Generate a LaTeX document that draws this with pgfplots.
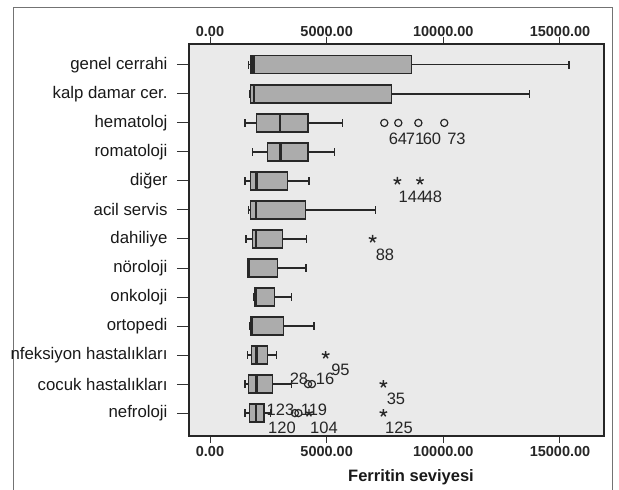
\documentclass[border=0pt]{standalone}
\usepackage{pgfplots}
\pgfplotsset{compat=1.18}
\usepgfplotslibrary{statistics}
\usepackage{fontspec}
\setmainfont{Liberation Sans}
\definecolor{plotbg}{RGB}{234,234,234}
\definecolor{boxfill}{RGB}{172,172,172}
\definecolor{boxline}{RGB}{40,40,40}
\pgfplotsset{
  bx/.style={boxplot prepared={#1}, draw=boxline, fill=boxfill, line width=1.2pt, solid,
    boxplot/box extend=0.62, boxplot/whisker extend=0.25,
    boxplot/every median/.style={line width=2.4pt}},
}
\begin{document}
\begin{tikzpicture}[x=1pt,y=1pt]
\draw[line width=0.9pt, draw=black!55] (13,-5) rectangle (612,483);
% main axis with data
\begin{axis}[
  at={(189pt,54pt)}, anchor=south west,
  scale only axis, width=415pt, height=392pt,
  xmin=-900, xmax=16886, ymin=0.28, ymax=13.79,
  y dir=reverse,
  axis background/.style={fill=plotbg},
  axis line style={line width=1.3pt, draw=black!85},
  ytick={1,...,13},
  yticklabels={genel cerrahi, kalp damar cer., hematoloj, romatoloji, diğer, acil servis, dahiliye, nöroloji, onkoloji, ortopedi, nfeksiyon hastalıkları, cocuk hastalıkları, nefroloji},
  ytick pos=left, tick align=outside, major tick length=12pt,
  ytick style={line width=1pt, black!80},
  yticklabel style={font=\fontsize{16.8}{18}\selectfont, text=black!90, xshift=-6pt},
  xtick=\empty,
  clip=false,
  boxplot/draw direction=x,
]
\addplot[bx={draw position=1, lower whisker=1643, lower quartile=1757, median=1870, upper quartile=8643, upper whisker=15386}] coordinates {};
\addplot[bx={draw position=2, lower whisker=1686, lower quartile=1743, median=1886, upper quartile=7786, upper whisker=13686}] coordinates {};
\addplot[bx={draw position=3, lower whisker=1500, lower quartile=2000, median=3000, upper quartile=4200, upper whisker=5686}] coordinates {};
\addplot[bx={draw position=4, lower whisker=1830, lower quartile=2457, median=3030, upper quartile=4200, upper whisker=5343}] coordinates {};
\addplot[bx={draw position=5, lower whisker=1500, lower quartile=1743, median=2000, upper quartile=3314, upper whisker=4243}] coordinates {};
\addplot[bx={draw position=6, lower whisker=1643, lower quartile=1743, median=1971, upper quartile=4100, upper whisker=7100}] coordinates {};
\addplot[bx={draw position=7, lower whisker=1543, lower quartile=1830, median=1971, upper quartile=3100, upper whisker=4143}] coordinates {};
\addplot[bx={draw position=8, lower whisker=1614, lower quartile=1614, median=1671, upper quartile=2900, upper whisker=4114}] coordinates {};
\addplot[bx={draw position=9, lower whisker=1886, lower quartile=1929, median=1971, upper quartile=2771, upper whisker=3500}] coordinates {};
\addplot[bx={draw position=10, lower whisker=1686, lower quartile=1743, median=1771, upper quartile=3157, upper whisker=4457}] coordinates {};
\addplot[bx={draw position=11, lower whisker=1600, lower quartile=1786, median=2000, upper quartile=2457, upper whisker=2857}] coordinates {};
\addplot[bx={draw position=12, lower whisker=1500, lower quartile=1643, median=2000, upper quartile=2686, upper whisker=3500}] coordinates {};
\addplot[bx={draw position=13, lower whisker=1500, lower quartile=1686, median=1971, upper quartile=2314, upper whisker=2600}] coordinates {};
% outliers
\addplot[only marks, mark=o, mark size=3.6pt, draw=boxline, line width=1.2pt] coordinates {(7470,3) (8070,3) (8930,3) (10040,3) (4200,12) (4370,12) (3640,13) (3790,13)};
\addplot[only marks, mark=star, mark size=4pt, draw=boxline, line width=1.4pt] coordinates {(8030,5) (9000,5) (6970,7) (4957,11) (7430,12) (4243,13) (7430,13)};
% outlier labels
\begin{scope}[every node/.style={font=\fontsize{16.5}{18}\selectfont, inner sep=0pt, text=black!85}]
\node at (axis cs:8057,3.56) {64};
\node at (axis cs:8786,3.56) {71};
\node at (axis cs:9514,3.56) {60};
\node at (axis cs:10564,3.56) {73};
\node at (axis cs:8679,5.55) {144};
\node at (axis cs:9557,5.55) {48};
\node at (axis cs:7500,7.53) {88};
\node at (axis cs:5593,11.52) {95};
\node at (axis cs:3814,11.81) {28};
\node at (axis cs:4929,11.81) {16};
\node at (axis cs:7971,12.50) {35};
\node at (axis cs:3021,12.88) {123};
\node at (axis cs:4457,12.88) {119};
\node at (axis cs:3086,13.51) {120};
\node at (axis cs:4886,13.51) {104};
\node at (axis cs:8100,13.51) {125};
\end{scope}
\end{axis}
% bottom x ticks
\begin{axis}[
  at={(189pt,54pt)}, anchor=south west,
  scale only axis, width=415pt, height=392pt,
  xmin=-900, xmax=16886, ymin=0, ymax=1,
  scaled x ticks=false,
  axis line style={line width=1.3pt, draw=black!85},
  xtick={0,5000,10000,15000},
  xticklabels={0.00,5000.00,10000.00,15000.00},
  xtick pos=lower, xticklabel pos=lower,
  tick align=outside, major tick length=7pt,
  xtick style={line width=1pt, black!80},
  xticklabel style={font=\bfseries\fontsize{14.5}{16}\selectfont, text=black!85},
  ytick=\empty,
]
\end{axis}
% top x ticks
\begin{axis}[
  at={(189pt,54pt)}, anchor=south west,
  scale only axis, width=415pt, height=392pt,
  xmin=-900, xmax=16886, ymin=0, ymax=1,
  scaled x ticks=false,
  axis line style={line width=1.3pt, draw=black!85},
  xtick={0,5000,10000,15000},
  xticklabels={0.00,5000.00,10000.00,15000.00},
  xtick pos=upper, xticklabel pos=upper,
  tick align=outside, major tick length=7pt,
  xtick style={line width=1pt, black!80},
  xticklabel style={font=\bfseries\fontsize{14.5}{16}\selectfont, text=black!85, yshift=-3pt},
  ytick=\empty,
]
\end{axis}
\node[font=\bfseries\fontsize{16.5}{18}\selectfont, text=black!90] at (411,13) {Ferritin seviyesi};
\pgfresetboundingbox
\useasboundingbox (0,0) rectangle (619,490);
\end{tikzpicture}
\end{document}
